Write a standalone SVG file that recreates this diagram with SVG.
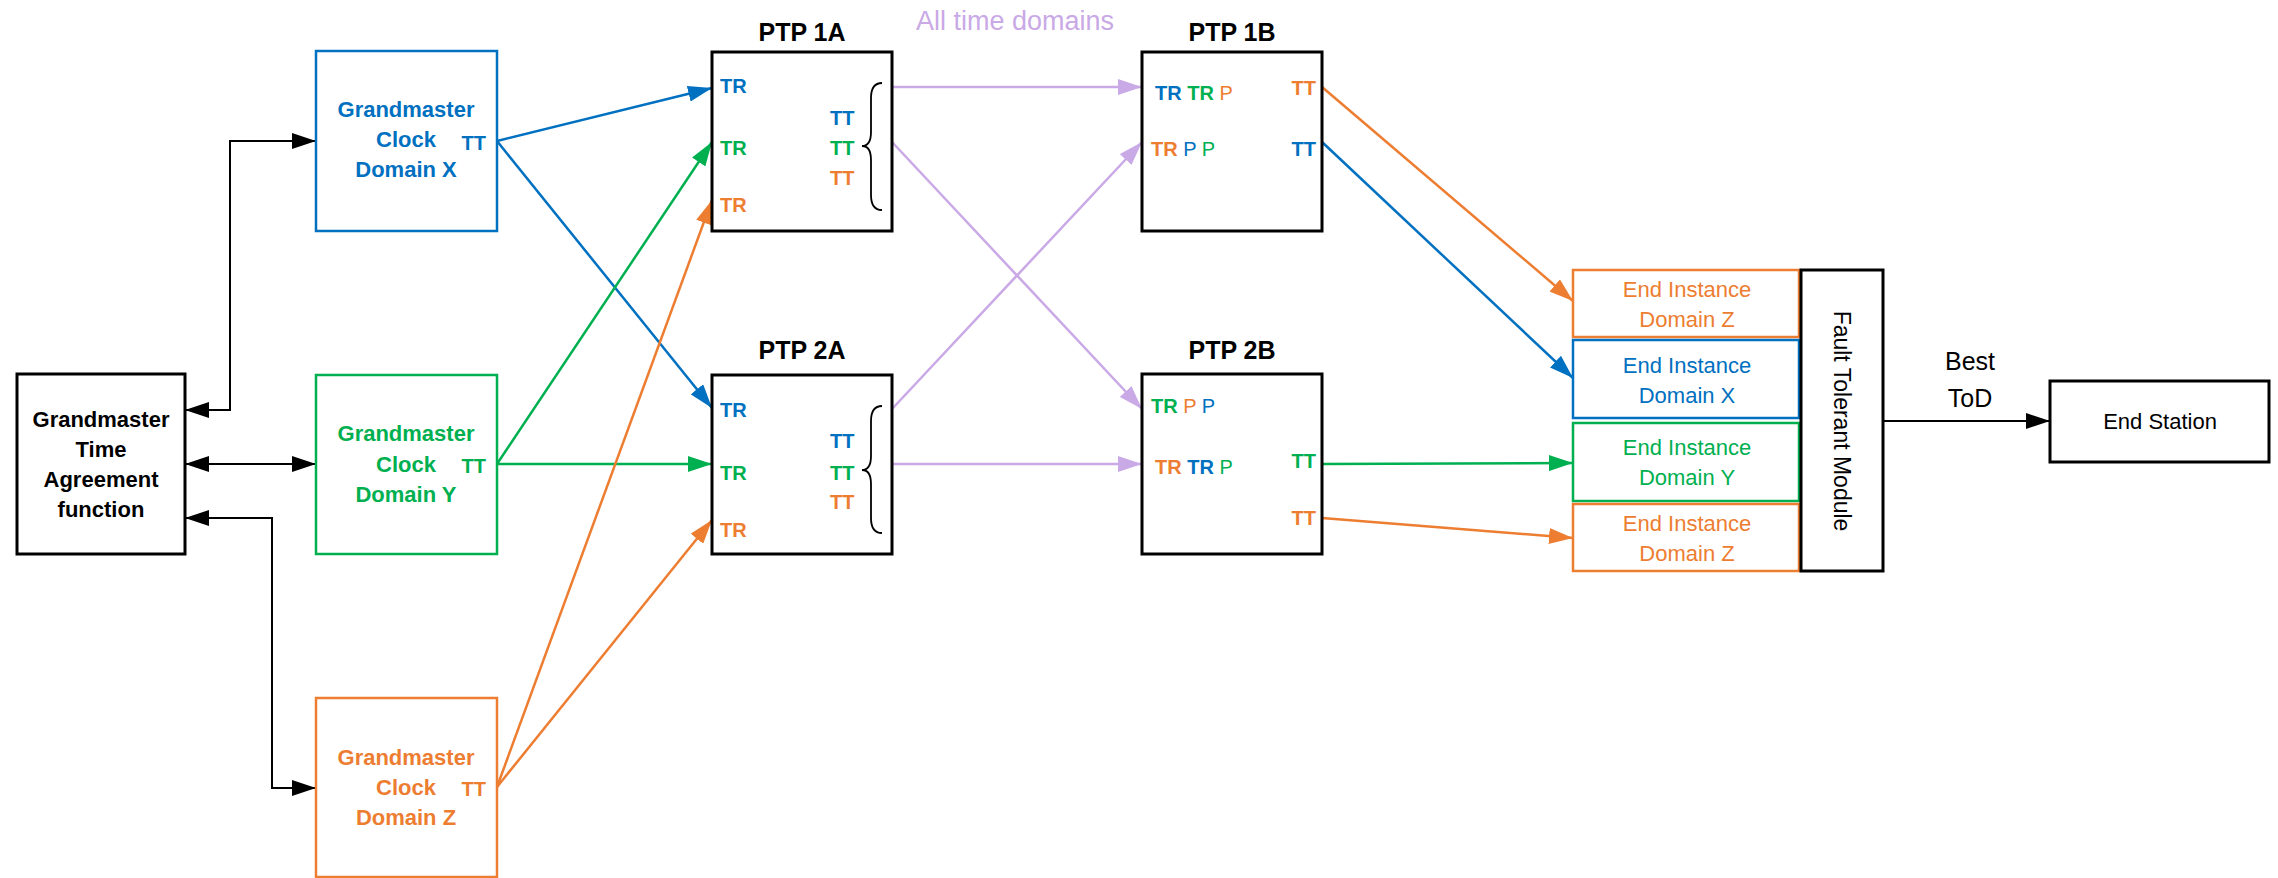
<svg xmlns="http://www.w3.org/2000/svg" width="2278" height="878" viewBox="0 0 2278 878">
<style>
text{font-family:"Liberation Sans",Arial,sans-serif}
.b{font-weight:bold}
.bl{fill:#0070C0}.gr{fill:#00B050}.or{fill:#ED7D31}.k{fill:#000}
.box{fill:#fff;stroke-width:2.5}
.kb{stroke:#000;stroke-width:3;fill:#fff}
.ln{fill:none;stroke-width:2.5}
.sb{stroke:#0070C0}.sg{stroke:#00B050}.so{stroke:#ED7D31}.sp{stroke:#C9A9E6}.sk{stroke:#000;stroke-width:2}
.t22{font-size:22px}.t20{font-size:20px}.t25{font-size:25px}
.c{text-anchor:middle}.e{text-anchor:end}
</style>
<defs>
<marker id="ak" markerUnits="userSpaceOnUse" markerWidth="24" markerHeight="16" refX="24" refY="8" orient="auto-start-reverse"><path d="M0,0 L24,8 L0,16 z" fill="#000"/></marker>
<marker id="ab" markerUnits="userSpaceOnUse" markerWidth="24" markerHeight="16" refX="24" refY="8" orient="auto"><path d="M0,0 L24,8 L0,16 z" fill="#0070C0"/></marker>
<marker id="ag" markerUnits="userSpaceOnUse" markerWidth="24" markerHeight="16" refX="24" refY="8" orient="auto"><path d="M0,0 L24,8 L0,16 z" fill="#00B050"/></marker>
<marker id="ao" markerUnits="userSpaceOnUse" markerWidth="24" markerHeight="16" refX="24" refY="8" orient="auto"><path d="M0,0 L24,8 L0,16 z" fill="#ED7D31"/></marker>
<marker id="ap" markerUnits="userSpaceOnUse" markerWidth="24" markerHeight="16" refX="24" refY="8" orient="auto"><path d="M0,0 L24,8 L0,16 z" fill="#C9A9E6"/></marker>
</defs>
<rect width="2278" height="878" fill="#fff"/>

<g id="connectors">
<path class="ln sk" d="M185,410 H230 V141 H316" marker-start="url(#ak)" marker-end="url(#ak)"/>
<path class="ln sk" d="M185,464 H316" marker-start="url(#ak)" marker-end="url(#ak)"/>
<path class="ln sk" d="M185,518 H272 V788 H316" marker-start="url(#ak)" marker-end="url(#ak)"/>
<path class="ln sb" d="M497,141 L712,88" marker-end="url(#ab)"/>
<path class="ln sb" d="M497,141 L712,408" marker-end="url(#ab)"/>
<path class="ln sg" d="M497,464 L712,142" marker-end="url(#ag)"/>
<path class="ln sg" d="M497,464 L712,464" marker-end="url(#ag)"/>
<path class="ln so" d="M497,787 L712,200" marker-end="url(#ao)"/>
<path class="ln so" d="M497,787 L712,520" marker-end="url(#ao)"/>
<path class="ln sp" d="M892,87 L1142,87" marker-end="url(#ap)"/>
<path class="ln sp" d="M892,142 L1142,409" marker-end="url(#ap)"/>
<path class="ln sp" d="M892,409 L1142,142" marker-end="url(#ap)"/>
<path class="ln sp" d="M892,464 L1142,464" marker-end="url(#ap)"/>
<path class="ln so" d="M1322,87 L1573,301" marker-end="url(#ao)"/>
<path class="ln sb" d="M1322,142 L1573,378" marker-end="url(#ab)"/>
<path class="ln sg" d="M1322,464 L1573,463" marker-end="url(#ag)"/>
<path class="ln so" d="M1322,518 L1573,538" marker-end="url(#ao)"/>
<path class="ln sk" d="M1883,421 H2050" marker-end="url(#ak)"/>
</g>

<text x="1015" y="30" class="c" font-size="27" fill="#C9A9E6">All time domains</text>

<g id="gta">
<rect x="17" y="374" width="168" height="180" class="kb"/>
<text class="b t22 c k" x="101"><tspan x="101" y="427">Grandmaster</tspan><tspan x="101" y="457">Time</tspan><tspan x="101" y="487">Agreement</tspan><tspan x="101" y="517">function</tspan></text>
</g>

<g id="gmx">
<rect x="316" y="51" width="181" height="180" class="box sb"/>
<text class="b t22 c bl"><tspan x="406" y="117">Grandmaster</tspan><tspan x="406" y="147">Clock</tspan><tspan x="406" y="177">Domain X</tspan></text>
<text class="b t20 e bl" x="486" y="150">TT</text>
</g>
<g id="gmy">
<rect x="316" y="375" width="181" height="179" class="box sg"/>
<text class="b t22 c gr"><tspan x="406" y="441">Grandmaster</tspan><tspan x="406" y="472">Clock</tspan><tspan x="406" y="502">Domain Y</tspan></text>
<text class="b t20 e gr" x="486" y="473">TT</text>
</g>
<g id="gmz">
<rect x="316" y="698" width="181" height="179" class="box so"/>
<text class="b t22 c or"><tspan x="406" y="765">Grandmaster</tspan><tspan x="406" y="795">Clock</tspan><tspan x="406" y="825">Domain Z</tspan></text>
<text class="b t20 e or" x="486" y="796">TT</text>
</g>

<g id="ptp1a">
<text class="b t25 c k" x="802" y="41">PTP 1A</text>
<rect x="712" y="52" width="180" height="179" class="kb"/>
<text class="b t20 bl" x="720" y="93">TR</text>
<text class="b t20 gr" x="720" y="155">TR</text>
<text class="b t20 or" x="720" y="212">TR</text>
<text class="b t20 bl" x="830" y="125">TT</text>
<text class="b t20 gr" x="830" y="155">TT</text>
<text class="b t20 or" x="830" y="185">TT</text>
<path d="M882,83 Q871,83 871,98 L871,132 Q871,146 862,146 Q871,146 871,160 L871,195 Q871,210 882,210" fill="none" stroke="#000" stroke-width="1.8"/>
</g>
<g id="ptp2a">
<text class="b t25 c k" x="802" y="359">PTP 2A</text>
<rect x="712" y="375" width="180" height="179" class="kb"/>
<text class="b t20 bl" x="720" y="417">TR</text>
<text class="b t20 gr" x="720" y="480">TR</text>
<text class="b t20 or" x="720" y="537">TR</text>
<text class="b t20 bl" x="830" y="448">TT</text>
<text class="b t20 gr" x="830" y="480">TT</text>
<text class="b t20 or" x="830" y="509">TT</text>
<path d="M882,406 Q871,406 871,421 L871,456 Q871,470 862,470 Q871,470 871,484 L871,518 Q871,533 882,533" fill="none" stroke="#000" stroke-width="1.8"/>
</g>
<g id="ptp1b">
<text class="b t25 c k" x="1232" y="41">PTP 1B</text>
<rect x="1142" y="52" width="180" height="179" class="kb"/>
<text class="t20" x="1155" y="100"><tspan class="b bl">TR</tspan> <tspan class="b gr">TR</tspan> <tspan class="or">P</tspan></text>
<text class="t20" x="1151" y="156"><tspan class="b or">TR</tspan> <tspan class="bl">P</tspan> <tspan class="gr">P</tspan></text>
<text class="b t20 e or" x="1316" y="95">TT</text>
<text class="b t20 e bl" x="1316" y="156">TT</text>
</g>
<g id="ptp2b">
<text class="b t25 c k" x="1232" y="359">PTP 2B</text>
<rect x="1142" y="374" width="180" height="180" class="kb"/>
<text class="t20" x="1151" y="413"><tspan class="b gr">TR</tspan> <tspan class="or">P</tspan> <tspan class="bl">P</tspan></text>
<text class="t20" x="1155" y="474"><tspan class="b or">TR</tspan> <tspan class="b bl">TR</tspan> <tspan class="gr">P</tspan></text>
<text class="b t20 e gr" x="1316" y="468">TT</text>
<text class="b t20 e or" x="1316" y="525">TT</text>
</g>

<g id="endz1">
<rect x="1573" y="270" width="226" height="67" class="box so"/>
<text class="t22 c or"><tspan x="1687" y="297">End Instance</tspan><tspan x="1687" y="327">Domain Z</tspan></text>
</g>
<g id="endx">
<rect x="1573" y="340" width="226" height="78" class="box sb"/>
<text class="t22 c bl"><tspan x="1687" y="373">End Instance</tspan><tspan x="1687" y="403">Domain X</tspan></text>
</g>
<g id="endy">
<rect x="1573" y="423" width="226" height="78" class="box sg"/>
<text class="t22 c gr"><tspan x="1687" y="455">End Instance</tspan><tspan x="1687" y="485">Domain Y</tspan></text>
</g>
<g id="endz2">
<rect x="1573" y="504" width="226" height="67" class="box so"/>
<text class="t22 c or"><tspan x="1687" y="531">End Instance</tspan><tspan x="1687" y="561">Domain Z</tspan></text>
</g>
<g id="ftm">
<rect x="1801" y="270" width="82" height="301" class="kb"/>
<text class="c k" font-size="23" transform="translate(1834,421) rotate(90)" x="0" y="0">Fault Tolerant Module</text>
</g>
<text class="t25 c k"><tspan x="1970" y="370">Best</tspan><tspan x="1970" y="407">ToD</tspan></text>
<g id="endstation">
<rect x="2050" y="381" width="219" height="81" class="kb"/>
<text class="t22 c k" x="2160" y="429">End Station</text>
</g>
</svg>
